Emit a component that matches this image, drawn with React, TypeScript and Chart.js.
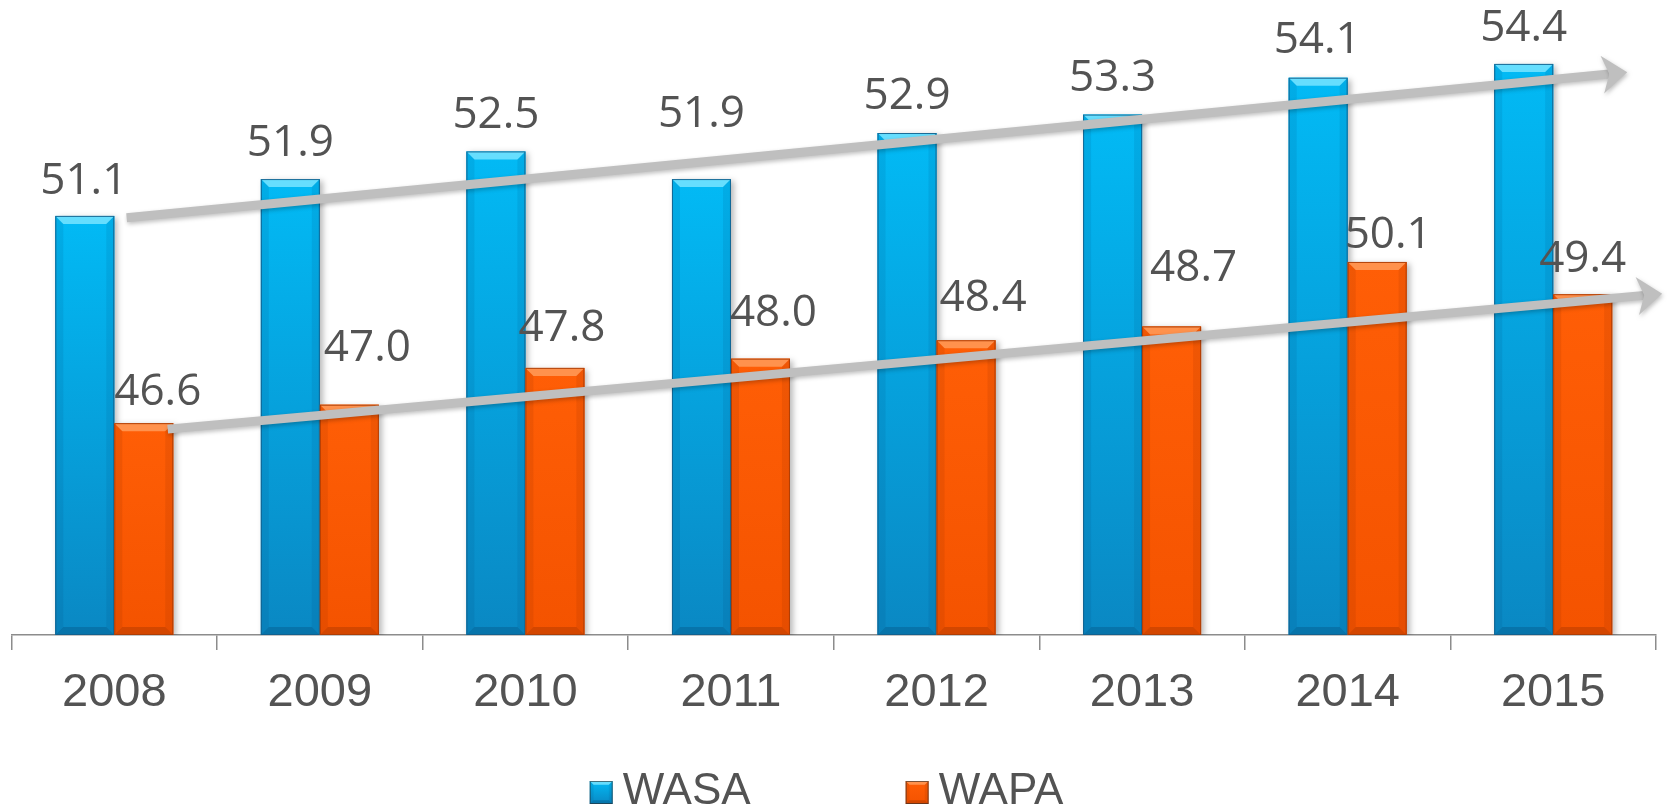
import React, { useEffect, useRef } from "react";
import { Chart, registerables } from "chart.js";

Chart.register(...registerables);

// ---------- data ----------
const years = ["2008", "2009", "2010", "2011", "2012", "2013", "2014", "2015"];
const wasaValues = [51.1, 51.9, 52.5, 51.9, 52.9, 53.3, 54.1, 54.4];
const wapaValues = [46.6, 47.0, 47.8, 48.0, 48.4, 48.7, 50.1, 49.4];
const seriesNames = ["WASA", "WAPA"];
const yMin = 42;
const yMax = 55;

// trend arrows in data space: [category index, value]
const upperTrend = [
  [0.06, 51.06],
  [7.36, 54.22],
];
const lowerTrend = [
  [0.26, 46.47],
  [7.53, 49.41],
];

// label nudges (px) of label centre relative to bar top centre
const wasaLabelDx = [-1, 0, 0, 0, 0, 0, -1, 0];
const wasaLabelDy = [-38, -39, -39, -68, -40, -39, -40, -39];
const wapaLabelDx = [14, 18, 7, 13, 17, 22, 11, 0];
const wapaLabelDy = [-34, -59, -43, -48, -45, -61, -30, -38];

// ---------- styles ----------
const seriesStyles = [
  {
    top: "#02BAF5",
    bottom: "#0A88C3",
    bevelTop: "rgba(120,228,255,0.85)",
    bevelBottom: "rgba(0,55,95,0.25)",
    side: "rgba(0,60,110,0.10)",
    edge: "rgba(20,95,140,0.9)",
  },
  {
    top: "#FF5E06",
    bottom: "#F45300",
    bevelTop: "rgba(255,155,90,0.85)",
    bevelBottom: "rgba(110,30,0,0.25)",
    side: "rgba(110,30,0,0.10)",
    edge: "rgba(170,60,5,0.9)",
  },
];
const labelDx = [wasaLabelDx, wapaLabelDx];
const labelDy = [wasaLabelDy, wapaLabelDy];
const textColor = "#535353";
const axisColor = "#8C8C8C";
const arrowColor = "#BFBFBF";

function drawBevelBox(ctx: CanvasRenderingContext2D, l: number, t: number, w: number, h: number, st: any) {
  const r = l + w;
  const b = t + h;
  const bev = Math.min(8, w / 6, h / 3);
  const g = ctx.createLinearGradient(0, t, 0, b);
  g.addColorStop(0, st.top);
  g.addColorStop(1, st.bottom);
  ctx.fillStyle = g;
  ctx.fillRect(l, t, w, h);
  ctx.beginPath();
  ctx.moveTo(l, t);
  ctx.lineTo(r, t);
  ctx.lineTo(r - bev, t + bev);
  ctx.lineTo(l + bev, t + bev);
  ctx.closePath();
  ctx.fillStyle = st.bevelTop;
  ctx.fill();
  ctx.beginPath();
  ctx.moveTo(l, b);
  ctx.lineTo(r, b);
  ctx.lineTo(r - bev, b - bev);
  ctx.lineTo(l + bev, b - bev);
  ctx.closePath();
  ctx.fillStyle = st.bevelBottom;
  ctx.fill();
  ctx.fillStyle = st.side;
  ctx.beginPath();
  ctx.moveTo(l, t);
  ctx.lineTo(l + bev, t + bev);
  ctx.lineTo(l + bev, b - bev);
  ctx.lineTo(l, b);
  ctx.closePath();
  ctx.fill();
  ctx.beginPath();
  ctx.moveTo(r, t);
  ctx.lineTo(r - bev, t + bev);
  ctx.lineTo(r - bev, b - bev);
  ctx.lineTo(r, b);
  ctx.closePath();
  ctx.fill();
  ctx.strokeStyle = st.edge;
  ctx.lineWidth = 1;
  ctx.strokeRect(l + 0.5, t + 0.5, w - 1, h - 1);
}

function drawArrow(ctx: CanvasRenderingContext2D, x1: number, y1: number, x2: number, y2: number) {
  const ang = Math.atan2(y2 - y1, x2 - x1);
  const c = Math.cos(ang);
  const s = Math.sin(ang);
  const headLen = 25;
  const headHalf = 19;
  const notch = 7;
  ctx.save();
  ctx.shadowColor = "rgba(0,0,0,0.25)";
  ctx.shadowBlur = 4;
  ctx.shadowOffsetX = 1;
  ctx.shadowOffsetY = 2;
  ctx.strokeStyle = arrowColor;
  ctx.fillStyle = arrowColor;
  ctx.lineWidth = 9;
  ctx.lineCap = "butt";
  ctx.beginPath();
  ctx.moveTo(x1, y1);
  ctx.lineTo(x2 - (headLen - notch) * c, y2 - (headLen - notch) * s);
  ctx.stroke();
  const bx = x2 - headLen * c;
  const by = y2 - headLen * s;
  ctx.beginPath();
  ctx.moveTo(x2, y2);
  ctx.lineTo(bx + headHalf * s, by - headHalf * c);
  ctx.lineTo(x2 - (headLen - notch) * c, y2 - (headLen - notch) * s);
  ctx.lineTo(bx - headHalf * s, by + headHalf * c);
  ctx.closePath();
  ctx.fill();
  ctx.restore();
}

const decorPlugin = {
  id: "decor",
  beforeDatasetsDraw(chart: any) {
    const ctx = chart.ctx;
    ctx.save();
    ctx.shadowColor = "rgba(0,0,0,0.28)";
    ctx.shadowBlur = 6;
    ctx.shadowOffsetX = 3;
    ctx.shadowOffsetY = 2;
  },
  afterDatasetsDraw(chart: any) {
    const ctx: CanvasRenderingContext2D = chart.ctx;
    ctx.restore();
    const area = chart.chartArea;
    chart.data.datasets.forEach((_ds: any, di: number) => {
      const meta = chart.getDatasetMeta(di);
      const st = seriesStyles[di];
      meta.data.forEach((bar: any) => {
        const p = bar.getProps(["x", "y", "base", "width"], true);
        const l = p.x - p.width / 2;
        const base = Math.min(p.base, area.bottom);
        drawBevelBox(ctx, l, p.y, p.width, base - p.y, st);
      });
    });
    const xs = chart.scales.x;
    const ys = chart.scales.y;
    [upperTrend, lowerTrend].forEach((tr) => {
      drawArrow(
        ctx,
        xs.getPixelForValue(tr[0][0]),
        ys.getPixelForValue(tr[0][1]),
        xs.getPixelForValue(tr[1][0]),
        ys.getPixelForValue(tr[1][1])
      );
    });
    ctx.save();
    ctx.font = '44px "Open Sans", "DejaVu Sans", sans-serif';
    ctx.fillStyle = textColor;
    ctx.textAlign = "center";
    ctx.textBaseline = "alphabetic";
    chart.data.datasets.forEach((ds: any, di: number) => {
      const meta = chart.getDatasetMeta(di);
      meta.data.forEach((bar: any, i: number) => {
        const p = bar.getProps(["x", "y"], true);
        const txt = Number(ds.data[i]).toFixed(1);
        ctx.fillText(txt, p.x + labelDx[di][i], p.y + labelDy[di][i] + 15.7);
      });
    });
    ctx.restore();
  },
  afterDraw(chart: any) {
    const ctx: CanvasRenderingContext2D = chart.ctx;
    ctx.save();
    ctx.font = '44px "Liberation Sans", Arial, sans-serif';
    ctx.textAlign = "left";
    ctx.textBaseline = "alphabetic";
    const box = 23;
    const gap = 10;
    const itemGap = 155;
    const items = chart.data.datasets.map((d: any, i: number) => ({
      text: d.label,
      w: ctx.measureText(d.label).width,
      st: seriesStyles[i],
    }));
    let total = 0;
    items.forEach((it: any, i: number) => {
      total += box + gap + it.w + (i > 0 ? itemGap : 0);
    });
    let x = chart.width / 2 - 9 - total / 2;
    const baseline = chart.height - 8;
    items.forEach((it: any) => {
      drawBevelBox(ctx, x, baseline - box, box, box, { ...it.st, edge: "rgba(40,40,40,0.6)" });
      ctx.fillStyle = textColor;
      ctx.fillText(it.text, x + box + gap, baseline);
      x += box + gap + it.w + itemGap;
    });
    ctx.restore();
  },
};

function barFill(idx: number) {
  return (c: any) => {
    const chart = c.chart;
    const ys = chart.scales && chart.scales.y;
    const st = seriesStyles[idx];
    if (!ys || c.raw == null) return st.top;
    const top = ys.getPixelForValue(c.raw);
    const bottom = ys.getPixelForValue(yMin);
    if (!isFinite(top) || !isFinite(bottom) || top === bottom) return st.top;
    const g = chart.ctx.createLinearGradient(0, top, 0, bottom);
    g.addColorStop(0, st.top);
    g.addColorStop(1, st.bottom);
    return g;
  };
}

export default function App() {
  const ref = useRef<HTMLCanvasElement | null>(null);
  useEffect(() => {
    if (!ref.current) return;
    const chart = new Chart(ref.current, {
      type: "bar",
      data: {
        labels: years,
        datasets: [
          {
            label: seriesNames[0],
            data: wasaValues,
            base: yMin,
            backgroundColor: barFill(0),
            borderWidth: 0,
            barPercentage: 1,
            categoryPercentage: 0.574,
          },
          {
            label: seriesNames[1],
            data: wapaValues,
            base: yMin,
            backgroundColor: barFill(1),
            borderWidth: 0,
            barPercentage: 1,
            categoryPercentage: 0.574,
          },
        ],
      },
      options: {
        responsive: false,
        animation: false,
        layout: { padding: { left: 11.5, right: 15, top: 36.3, bottom: 75.6 } },
        plugins: {
          legend: { display: false },
          tooltip: { enabled: false },
          title: { display: false },
        },
        scales: {
          x: {
            offset: true,
            grid: {
              offset: true,
              drawOnChartArea: false,
              drawTicks: true,
              tickLength: 15,
              color: axisColor,
              lineWidth: 1.5,
            },
            border: { display: true, color: axisColor, width: 1.5 },
            ticks: {
              color: textColor,
              padding: 15,
              font: { family: '"Liberation Sans", Arial, sans-serif', size: 47 },
              maxRotation: 0,
            },
          },
          y: {
            display: false,
            min: yMin,
            max: yMax,
          },
        },
      },
      plugins: [decorPlugin],
    });
    return () => chart.destroy();
  }, []);
  return (
    <div style={{ position: "absolute", left: 0, top: 0, width: 1671, height: 812, background: "#fff" }}>
      <canvas ref={ref} width={1671} height={812} style={{ display: "block" }} />
    </div>
  );
}
